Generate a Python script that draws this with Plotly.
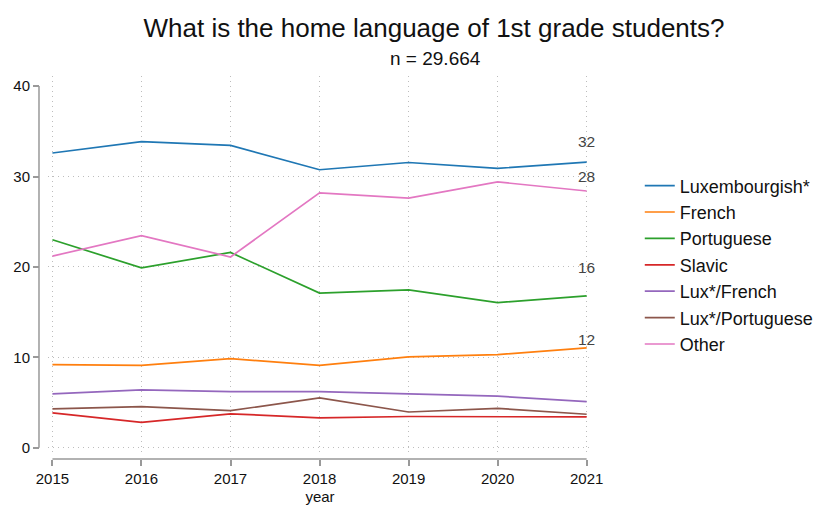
import plotly.graph_objects as go

years = [2015, 2016, 2017, 2018, 2019, 2020, 2021]
series_names = ["Luxembourgish*", "French", "Portuguese", "Slavic",
                "Lux*/French", "Lux*/Portuguese", "Other"]
luxembourgish = [32.6, 33.85, 33.45, 30.75, 31.55, 30.9, 31.6]
french = [9.2, 9.1, 9.85, 9.1, 10.05, 10.3, 11.05]
portuguese = [23.0, 19.9, 21.6, 17.1, 17.45, 16.05, 16.8]
slavic = [3.85, 2.8, 3.75, 3.3, 3.45, 3.45, 3.4]
lux_french = [5.95, 6.4, 6.2, 6.2, 5.95, 5.7, 5.1]
lux_portuguese = [4.3, 4.55, 4.1, 5.5, 3.95, 4.35, 3.7]
other = [21.2, 23.45, 21.1, 28.2, 27.6, 29.4, 28.4]
values = [luxembourgish, french, portuguese, slavic, lux_french, lux_portuguese, other]
colors = ["#1f77b4", "#ff7f0e", "#2ca02c", "#d62728", "#9467bd", "#8c564b", "#e377c2"]

end_label_series = ["Luxembourgish*", "Other", "Portuguese", "French"]
end_label_texts = ["32", "28", "16", "12"]
end_label_shift = [21, 14, 28, 8]

y_ticks = [0, 10, 20, 30, 40]
y_grid = [0, 10, 20, 30]

FONT = "Liberation Sans, Arial, Helvetica, sans-serif"
GRID = "#bdbdbd"

fig = go.Figure()
for i, (name, vals, col) in enumerate(zip(series_names, values, colors)):
    fig.add_trace(go.Scatter(x=years, y=vals, mode="lines", name=name,
                             legendgroup=f"g{i}",
                             line=dict(color=col, width=1.7)))

for name, txt, sh in zip(end_label_series, end_label_texts, end_label_shift):
    v = values[series_names.index(name)][-1]
    fig.add_annotation(x=years[-1], y=v, text=txt, showarrow=False,
                       yshift=sh, xanchor="center", yanchor="middle",
                       font=dict(size=15.5, color="#444444", family=FONT))

# detached axis lines (Stata style)
fig.add_shape(type="line", xref="paper", yref="y", x0=0.016, x1=0.016,
              y0=y_ticks[0], y1=y_ticks[-1], line=dict(color="#999999", width=1.5))
fig.add_shape(type="line", xref="x", yref="paper", x0=years[0], x1=years[-1],
              y0=0.0154, y1=0.0154, line=dict(color="#999999", width=1.5))

fig.update_layout(
    width=823, height=505,
    margin=dict(l=30, r=231, t=76, b=40, autoexpand=False),
    plot_bgcolor="white", paper_bgcolor="white",
    font=dict(family=FONT, color="#111111"),
    showlegend=True,
    legend=dict(x=1.085, xanchor="left", y=0.765, yanchor="top",
                font=dict(size=18, color="#111111"), tracegroupgap=0,
                bgcolor="rgba(0,0,0,0)"),
    xaxis=dict(domain=[0.032, 1], range=[2014.95, 2021.06], anchor="free",
               position=0.0154, tickvals=years, ticks="outside", ticklen=6,
               tickcolor="#999999", tickwidth=1.5, showline=False, automargin=False,
               showgrid=True, gridcolor=GRID, griddash="1px,4px", gridwidth=1,
               zeroline=False, tickfont=dict(size=15, color="#111111"),
               title=dict(text="year", font=dict(size=15, color="#111111"), standoff=9)),
    yaxis=dict(domain=[0.0231, 1], range=[-0.92, 41.12], anchor="free",
               position=0.016, tickvals=y_ticks, ticks="outside", ticklen=6,
               tickcolor="#999999", tickwidth=1.5, showline=False, automargin=False,
               showgrid=False, zeroline=False,
               tickfont=dict(size=15, color="#111111"),
               minor=dict(tickvals=y_grid, showgrid=True, gridcolor=GRID,
                          griddash="1px,4px", gridwidth=1, ticks="")),
    title=dict(text="What is the home language of 1st grade students?",
               x=434 / 823, xref="container", xanchor="center",
               y=1 - 28 / 505, yref="container", yanchor="middle",
               font=dict(size=26, color="#111111")),
)
fig.add_annotation(text="n = 29.664", xref="paper", yref="paper",
                   x=(435 - 30) / 562, y=1 + (76 - 58) / 389,
                   xanchor="center", yanchor="middle", showarrow=False,
                   font=dict(size=19, color="#111111", family=FONT))

fig.write_html("out.html", config={"displayModeBar": False},
               post_script="document.body.style.margin='0';document.body.style.overflow='hidden';")
